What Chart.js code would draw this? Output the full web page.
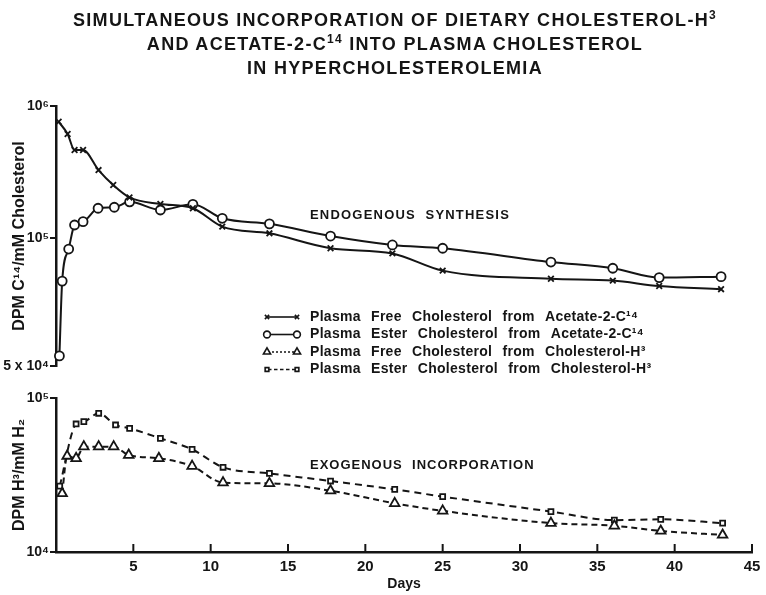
<!DOCTYPE html>
<html>
<head>
<meta charset="utf-8">
<script src="https://cdn.jsdelivr.net/npm/chart.js@4.4.1/dist/chart.umd.min.js"></script>
<style>
  html, body { margin: 0; padding: 0; background: #fff; }
  #wrap { position: relative; width: 766px; height: 595px; overflow: hidden; }
  #wrap canvas { position: absolute; left: 0; top: 0; }
  #title {
    position: absolute; left: 24px; top: 8px; width: 742px;
    text-align: center; color: #151515;
    font: bold 18px "Liberation Sans", Arial, sans-serif;
    line-height: 24px; letter-spacing: 1.3px;
  }
  #title sup { font-size: 12px; line-height: 0; vertical-align: 7px; }
</style>
</head>
<body>
<div id="wrap">
  <canvas id="endoChart" width="766" height="595"></canvas>
  <canvas id="exoChart" width="766" height="595"></canvas>
  <div id="title">SIMULTANEOUS INCORPORATION OF DIETARY CHOLESTEROL-H<sup>3</sup><br>AND ACETATE-2-C<sup>14</sup> INTO PLASMA CHOLESTEROL<br>IN HYPERCHOLESTEROLEMIA</div>
</div>
<script>
// values (days, DPM)
const freeC14Days = [0.17, 0.75, 1.2, 1.75, 2.75, 3.7, 4.75, 6.75, 8.85, 10.75, 13.8, 17.75, 21.75, 25, 32, 36, 39, 43];
const freeC14 = [760000, 614000, 464000, 464000, 327000, 252000, 203000, 181000, 168000, 122000, 108500, 94600, 92000, 83800, 80200, 79400, 77100, 75800];

const esterC14Days = [0.22, 0.4, 0.82, 1.2, 1.75, 2.72, 3.77, 4.76, 6.75, 8.85, 10.75, 13.8, 17.75, 21.75, 25, 32, 36, 39, 43];
const esterC14 = [52800, 79200, 94200, 125500, 133000, 168000, 171000, 188000, 163000, 180000, 141000, 128000, 103500, 96300, 94600, 87800, 84900, 80700, 81100];

const freeH3Days = [0.4, 0.72, 1.3, 1.8, 2.76, 3.73, 4.7, 6.65, 8.8, 10.8, 13.8, 17.75, 21.9, 25, 32, 36.1, 39.1, 43.1];
const freeH3 = [24000, 42000, 40600, 48300, 48300, 48300, 42600, 40600, 36100, 28200, 27900, 25000, 20700, 18500, 15400, 14800, 13700, 12900];

const esterH3Days = [0.24, 1.3, 1.8, 2.76, 3.85, 4.76, 6.75, 8.8, 10.8, 13.8, 17.75, 21.9, 25, 32, 36.1, 39.1, 43.1];
const esterH3 = [26800, 67800, 70200, 79600, 66800, 63500, 54700, 46400, 35500, 32400, 28900, 25500, 22900, 18300, 16100, 16300, 15400];

const xTicks = [5, 10, 15, 20, 25, 30, 35, 40, 45];
const endoTicks = [50000, 100000, 1000000];
const endoTickLabels = ["5 x 10⁴", "10⁵", "10⁶"];
const exoTicks = [10000, 100000];
const exoTickLabels = ["10⁴", "10⁵"];

const legendLabels = [
    "Plasma Free Cholesterol from Acetate-2-C¹⁴",
    "Plasma Ester Cholesterol from Acetate-2-C¹⁴",
    "Plasma Free Cholesterol from Cholesterol-H³",
    "Plasma Ester Cholesterol from Cholesterol-H³",
];

const INK = "#151515";
const FONT = '"Liberation Sans", Arial, sans-serif';
const boldFont = (size) => ({ family: FONT, size: size, weight: "bold" });

// marker / line look for each series, same order as the legend
const looks = [
    { pointStyle: "crossRot", radius: 4, dash: [] },
    { pointStyle: "circle", radius: 4.5, dash: [] },
    { pointStyle: "triangle", radius: 5.5, dash: [6, 4] },
    { pointStyle: "rect", radius: 3.5, dash: [7, 5] },
];

// the top panel's paper: one log cycle 1e5..1e6 on top, the 5e4..1e5 part stretched below
const BREAK = 0.4923;
function toDec(v) {
    const l = Math.log10(v);
    if (v <= 1e5) return (BREAK * (l - Math.log10(5e4))) / Math.log10(2);
    return BREAK + (1 - BREAK) * (l - 5);
}
function fromDec(d) {
    if (d <= BREAK) return 5e4 * Math.pow(2, d / BREAK);
    return Math.pow(10, 5 + (d - BREAK) / (1 - BREAK));
}
class StretchLogScale extends Chart.LogarithmicScale {
    getPixelForValue(v) {
        if (v === null || v === undefined || isNaN(v)) return NaN;
        return this.getPixelForDecimal(toDec(v));
    }
    getValueForPixel(p) {
        return fromDec(this.getDecimalForPixel(p));
    }
}
StretchLogScale.id = "stretchlog";
StretchLogScale.defaults = Chart.LogarithmicScale.defaults;
Chart.register(StretchLogScale);

function series(days, values, look) {
    return {
        data: days.map((d, i) => ({ x: d, y: values[i] })),
        borderColor: INK,
        backgroundColor: "#fff",
        borderWidth: 2,
        borderDash: look.dash,
        pointStyle: look.pointStyle,
        pointRadius: look.radius,
        pointBorderWidth: 1.8,
        pointBorderColor: INK,
        pointBackgroundColor: "#fff",
        cubicInterpolationMode: "monotone",
        clip: false,
    };
}

function xScale(show) {
    return {
        type: "linear",
        min: 0,
        max: 45,
        display: show,
        afterBuildTicks: (s) => { s.ticks = xTicks.map((v) => ({ value: v })); },
        afterFit: (s) => {
            if (!show) return;
            s.height = 43; s.paddingLeft = 0; s.paddingRight = 0;
        },
        grid: { display: false, drawTicks: false },
        border: { display: true, color: INK, width: 2.5 },
        ticks: { color: INK, font: boldFont(15), padding: 6, maxRotation: 0, autoSkip: false },
        title: { display: true, text: "Days", color: INK, font: boldFont(14), padding: { top: 0, bottom: 2 } },
    };
}

function yScale(type, min, max, ticks, labels, title) {
    return {
        type: type,
        min: min,
        max: max,
        afterBuildTicks: (s) => { s.ticks = ticks.map((v) => ({ value: v })); },
        afterFit: (s) => { s.width = 56; s.paddingTop = 0; s.paddingBottom = 0; },
        grid: { drawOnChartArea: false, drawTicks: true, tickLength: 6, color: INK, lineWidth: 2 },
        border: { color: INK, width: 2.5 },
        ticks: { callback: (v, i) => labels[i], color: INK, font: boldFont(14), padding: 1, autoSkip: false },
        title: { display: true, text: title, color: INK, font: boldFont(16), padding: { top: 10, bottom: 0 } },
    };
}

// marks along the x axis point up into the plot, like on the original
const innerTicks = {
    id: "innerTicks",
    afterDraw(chart) {
        const { ctx, chartArea, scales } = chart;
        ctx.save();
        ctx.strokeStyle = INK;
        ctx.lineWidth = 2;
        xTicks.forEach((v) => {
            const px = scales.x.getPixelForValue(v);
            ctx.beginPath();
            ctx.moveTo(px, chartArea.bottom);
            ctx.lineTo(px, chartArea.bottom - 8);
            ctx.stroke();
        });
        ctx.restore();
    },
};

const endoNotes = {
    id: "endoNotes",
    afterDraw(chart) {
        const ctx = chart.ctx;
        ctx.save();
        ctx.fillStyle = INK;
        ctx.textBaseline = "middle";
        ctx.font = "bold 13px " + FONT;
        ctx.letterSpacing = "1.2px";
        ctx.fillText("ENDOGENOUS  SYNTHESIS", 310, 215);

        // legend block for all four series
        ctx.letterSpacing = "0.3px";
        ctx.wordSpacing = "6px";
        ctx.font = "bold 14px " + FONT;
        legendLabels.forEach((label, i) => {
            const y = 317 + i * 17.5;
            const look = looks[i];
            ctx.strokeStyle = INK;
            ctx.lineWidth = 1.6;
            ctx.setLineDash(i === 2 ? [2, 2] : look.dash.map((d) => d * 0.5));
            ctx.beginPath();
            ctx.moveTo(268, y);
            ctx.lineTo(296, y);
            ctx.stroke();
            ctx.setLineDash([]);
            ctx.fillStyle = "#fff";
            const pt = { pointStyle: look.pointStyle, radius: look.radius * 0.75, borderWidth: 1.5, rotation: 0 };
            Chart.helpers.drawPoint(ctx, pt, 267, y);
            Chart.helpers.drawPoint(ctx, pt, 297, y);
            ctx.fillStyle = INK;
            ctx.fillText(label, 310, y);
        });
        ctx.restore();
    },
};

const exoNotes = {
    id: "exoNotes",
    afterDraw(chart) {
        const ctx = chart.ctx;
        ctx.save();
        ctx.fillStyle = INK;
        ctx.textBaseline = "middle";
        ctx.font = "bold 13px " + FONT;
        ctx.letterSpacing = "1px";
        ctx.fillText("EXOGENOUS  INCORPORATION", 310, 465);
        ctx.restore();
    },
};

const endoChart = new Chart(document.getElementById("endoChart"), {
    type: "line",
    data: {
        datasets: [
            series(freeC14Days, freeC14, looks[0]),
            series(esterC14Days, esterC14, looks[1]),
        ],
    },
    options: {
        responsive: false,
        animation: false,
        layout: { padding: { left: 0, top: 106, right: 14, bottom: 229 } },
        scales: {
            x: xScale(false),
            y: yScale("stretchlog", 5e4, 1e6, endoTicks, endoTickLabels, "DPM C¹⁴/mM Cholesterol"),
        },
        plugins: { legend: { display: false }, tooltip: { enabled: false } },
    },
    plugins: [endoNotes],
});

const exoChart = new Chart(document.getElementById("exoChart"), {
    type: "line",
    data: {
        datasets: [
            series(freeH3Days, freeH3, looks[2]),
            series(esterH3Days, esterH3, looks[3]),
        ],
    },
    options: {
        responsive: false,
        animation: false,
        layout: { padding: { left: 0, top: 398, right: 14, bottom: 0 } },
        scales: {
            x: xScale(true),
            y: yScale("logarithmic", 1e4, 1e5, exoTicks, exoTickLabels, "DPM H³/mM H₂"),
        },
        plugins: { legend: { display: false }, tooltip: { enabled: false } },
    },
    plugins: [innerTicks, exoNotes],
});
</script>
</body>
</html>
